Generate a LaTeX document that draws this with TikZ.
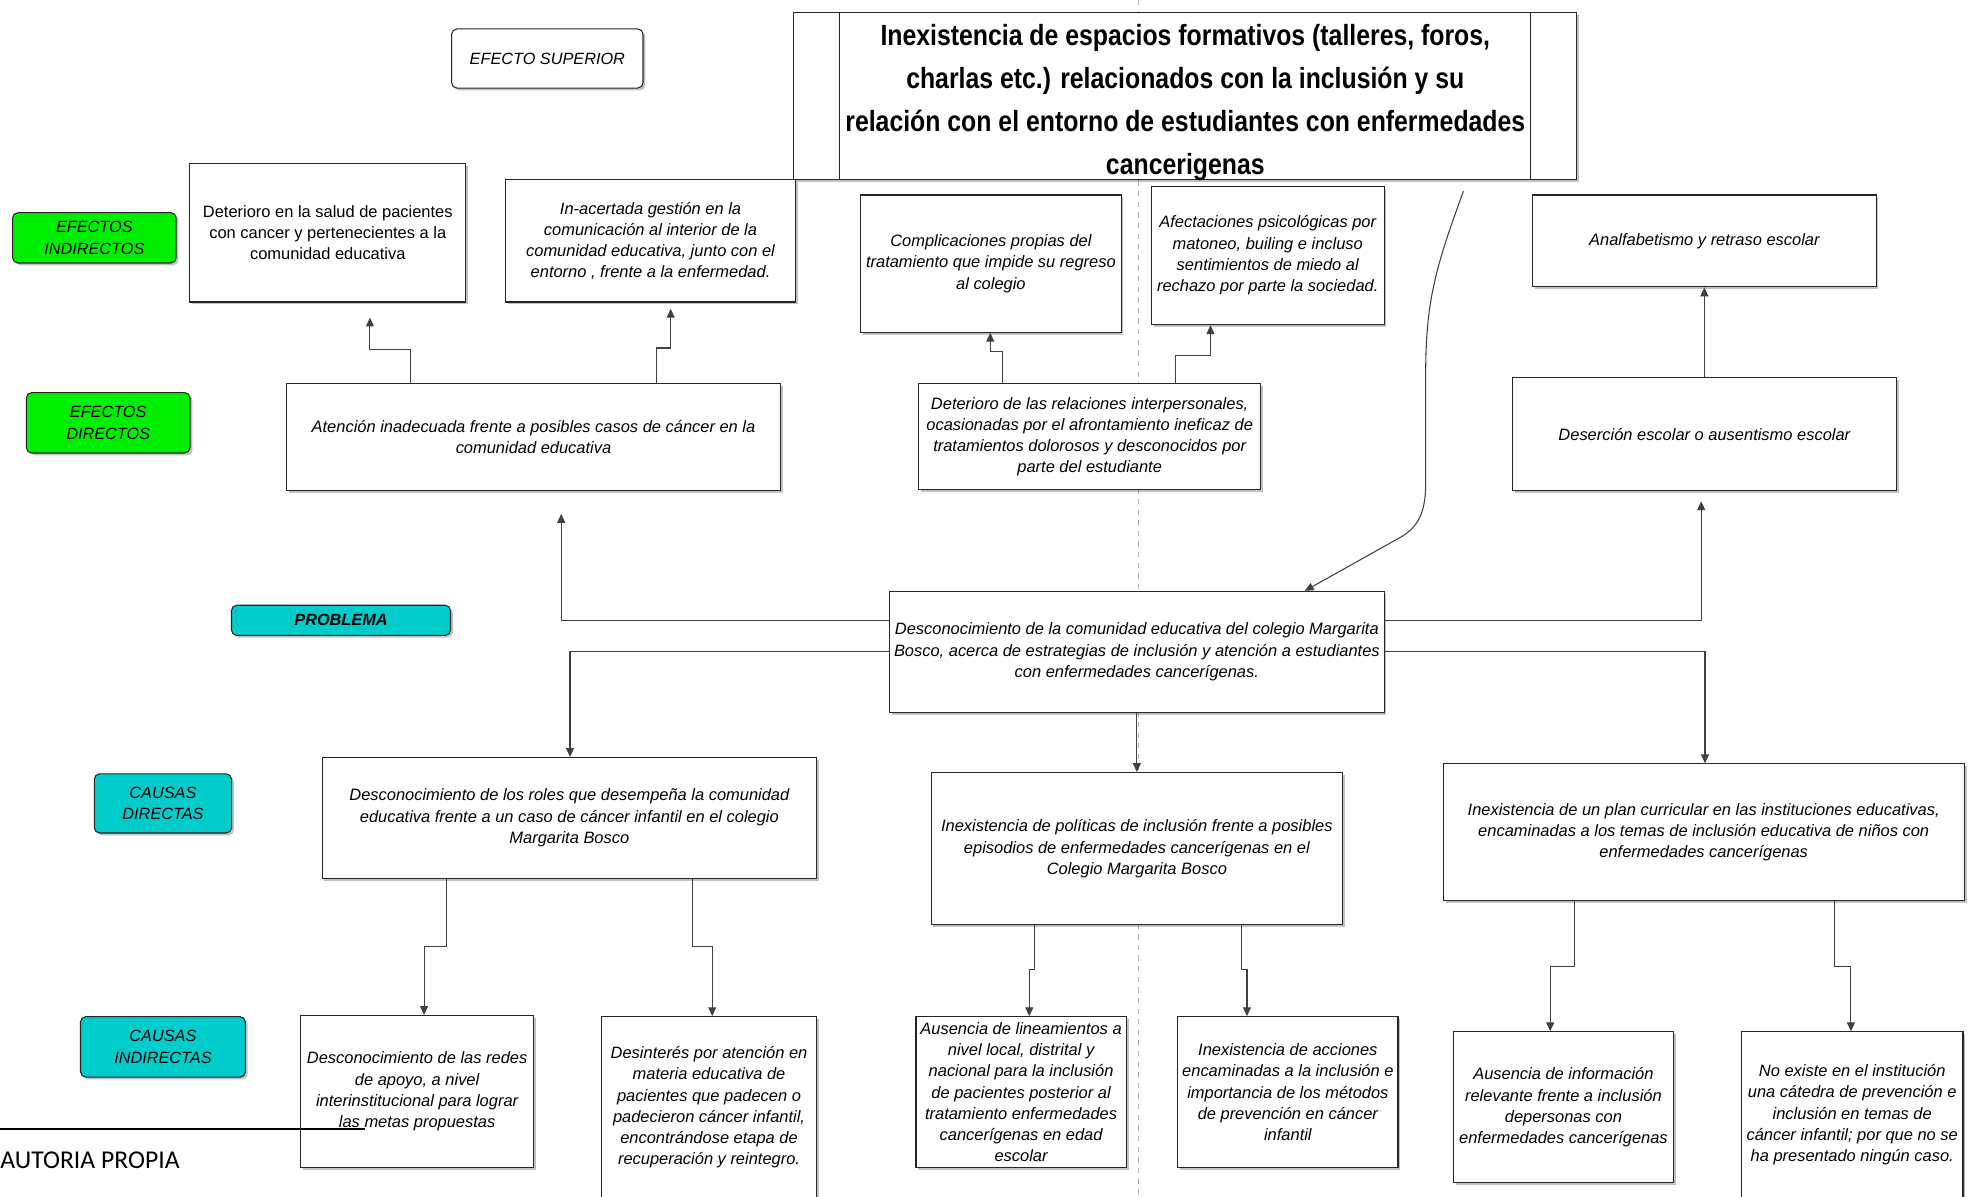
\documentclass[tikz,border=0pt]{standalone}
\usepackage{fontspec}
\setmainfont{Liberation Sans}
\newfontfamily\titulofont[FakeStretch=0.85]{Liberation Sans}
\newfontfamily\notafont{Carlito}
\usetikzlibrary{arrows.meta,calc,shadows}

\definecolor{verde}{RGB}{0,238,0}
\definecolor{turquesa}{RGB}{0,204,204}

\begin{document}
\begin{tikzpicture}[
	x=0.025cm, y=-0.025cm,
	caja/.style={
		draw=black!85, line width=0.6pt, fill=white, align=center, inner sep=2pt,
		font=\fontsize{9.3}{12}\selectfont\itshape,
		drop shadow={shadow xshift=1.3pt, shadow yshift=-1.3pt, opacity=0.35, fill=black!70}
	},
	etiqueta/.style={caja, rounded corners=3pt, font=\fontsize{9.2}{12}\selectfont\itshape},
	flecha/.style={draw=black!75, line width=0.6pt, -{Triangle[length=5pt,width=4.5pt]}}
	]
	
	\useasboundingbox (0,0) rectangle (1568,951);
	
	% page break line
	\draw[black!30, dashed] (905,0) -- (905,951);
	
	% Labels on the left
	\node[etiqueta, minimum width=3.8cm, minimum height=1.175cm] (sup) at (435,46.5) {EFECTO SUPERIOR};
	\node[etiqueta, fill=verde, minimum width=3.25cm, minimum height=1cm] (lei) at (75,189) {EFECTOS\\INDIRECTOS};
	\node[etiqueta, fill=verde, minimum width=3.25cm, minimum height=1.2cm] (led) at (86,336) {EFECTOS\\DIRECTOS};
	\node[etiqueta, fill=turquesa, minimum width=4.35cm, minimum height=0.6cm, font=\fontsize{9.2}{12}\selectfont\bfseries\itshape] (lpb) at (271,493) {PROBLEMA};
	\node[etiqueta, fill=turquesa, minimum width=2.725cm, minimum height=1.175cm] (lcd) at (129.5,638.5) {CAUSAS\\DIRECTAS};
	\node[etiqueta, fill=turquesa, minimum width=3.275cm, minimum height=1.2cm] (lci) at (129.5,832) {CAUSAS\\INDIRECTAS};
	
	% Top effect
	\node[caja, minimum width=15.55cm, minimum height=3.325cm] (tit) at (942,76.5) {};
	\node[align=center, inner sep=0pt, font=\titulofont\bfseries\fontsize{16.5}{24.2}\selectfont] (tittxt) at ($(tit.center)+(0,5)$)
		{Inexistencia de espacios formativos (talleres, foros,\\charlas etc.) relacionados con la inclusión y su\\relación con el entorno de estudiantes con enfermedades\\cancerigenas};
	\draw[draw=black!85, line width=0.6pt] ($(tit.north west)+(37,0)$) -- ($(tit.south west)+(37,0)$);
	\draw[draw=black!85, line width=0.6pt] ($(tit.north east)+(-37,0)$) -- ($(tit.south east)+(-37,0)$);
	
	% Indirect effects
	\node[caja, minimum width=5.475cm, minimum height=2.75cm, font=\fontsize{9.3}{12}\selectfont\upshape] (ei1) at (260.5,185)
		{Deterioro en la salud de pacientes\\con cancer y pertenecientes a la\\comunidad educativa};
	\node[caja, minimum width=5.75cm, minimum height=2.425cm] (ei2) at (517,191.5)
		{In-acertada gestión en la\\comunicación al interior de la\\comunidad educativa, junto con el\\entorno , frente a la enfermedad.};
	\node[caja, minimum width=5.175cm, minimum height=2.725cm] (ei3) at (787.5,209.5)
		{Complicaciones propias del\\tratamiento que impide su regreso\\al colegio};
	\node[caja, minimum width=4.625cm, minimum height=2.75cm] (ei4) at (1007.5,203)
		{Afectaciones psicológicas por\\matoneo, builing e incluso\\sentimientos de miedo al\\rechazo por parte la sociedad.};
	\node[caja, minimum width=6.825cm, minimum height=1.825cm] (ei5) at (1354.5,191.5)
		{Analfabetismo y retraso escolar};
	
	% Direct effects
	\node[caja, minimum width=9.8cm, minimum height=2.125cm] (ed1) at (424,347.5)
		{Atención inadecuada frente a posibles casos de cáncer en la\\comunidad educativa};
	\node[caja, minimum width=6.8cm, minimum height=2.1cm] (ed2) at (866,347)
		{Deterioro de las relaciones interpersonales,\\ocasionadas por el afrontamiento ineficaz de\\tratamientos dolorosos y desconocidos por\\parte del estudiante};
	\node[caja, minimum width=7.625cm, minimum height=2.25cm] (ed3) at (1354.5,345)
		{Deserción escolar o ausentismo escolar};
	
	% Problem
	\node[caja, minimum width=9.825cm, minimum height=2.4cm] (pb) at (903.5,518)
		{Desconocimiento de la comunidad educativa del colegio Margarita\\Bosco, acerca de estrategias de inclusión y atención a estudiantes\\con enfermedades cancerígenas.};
	
	% Direct causes
	\node[caja, minimum width=9.825cm, minimum height=2.4cm] (cd1) at (452.5,650)
		{Desconocimiento de los roles que desempeña la comunidad\\educativa frente a un caso de cáncer infantil en el colegio\\Margarita Bosco};
	\node[caja, minimum width=8.175cm, minimum height=3.025cm] (cd2) at (903.5,674.5)
		{Inexistencia de políticas de inclusión frente a posibles\\episodios de enfermedades cancerígenas en el\\Colegio Margarita Bosco};
	\node[caja, minimum width=10.35cm, minimum height=2.725cm] (cd3) at (1354,661.5)
		{Inexistencia de un plan curricular en las instituciones educativas,\\encaminadas a los temas de inclusión educativa de niños con\\enfermedades cancerígenas};
	
	% Indirect causes
	\node[caja, minimum width=4.625cm, minimum height=3.025cm] (ci1) at (331.5,867.5)
		{Desconocimiento de las redes\\de apoyo, a nivel\\interinstitucional para lograr\\las metas propuestas};
	\node[caja, minimum width=4.275cm, minimum height=3.6cm] (ci2) at (563.5,880)
		{Desinterés por atención en\\materia educativa de\\pacientes que padecen o\\padecieron cáncer infantil,\\encontrándose etapa de\\recuperación y reintegro.};
	\node[caja, minimum width=4.175cm, minimum height=3cm] (ci3) at (811.5,868)
		{Ausencia de lineamientos a\\nivel local, distrital y\\nacional para la inclusión\\de pacientes posterior al\\tratamiento enfermedades\\cancerígenas en edad\\escolar};
	\node[caja, minimum width=4.375cm, minimum height=3cm] (ci4) at (1023.5,868)
		{Inexistencia de acciones\\encaminadas a la inclusión e\\importancia de los métodos\\de prevención en cáncer\\infantil};
	\node[caja, minimum width=4.375cm, minimum height=3cm] (ci5) at (1242.5,880)
		{Ausencia de información\\relevante frente a inclusión\\depersonas con\\enfermedades cancerígenas};
	\node[caja, minimum width=4.4cm, minimum height=3.3cm] (ci6) at (1472,886)
		{No existe en el institución\\una cátedra de prevención e\\inclusión en temas de\\cáncer infantil; por que no se\\ha presentado ningún caso.};
	
	% Connectors: direct effects -> indirect effects
	\draw[flecha, shorten >=0.3cm] (ed1.north -| 326,0) -- ++(0,-27) -| (ei1.south -| 294,0);
	\draw[flecha, shorten >=0.125cm] (ed1.north -| 522,0) -- ++(0,-28) -| (ei2.south -| 533,0);
	\draw[flecha] (ed2.north -| 797,0) -- ++(0,-25) -| (ei3.south -| 787,0);
	\draw[flecha] (ed2.north -| 934,0) -- ++(0,-22) -| (ei4.south -| 962,0);
	\draw[flecha] (ed3.north) -- (ei5.south);
	
	% Problem -> effects
	\draw[flecha, shorten >=0.45cm] (pb.west |- 0,493) -| (ed1.south -| 446,0);
	\draw[flecha, shorten >=0.2cm] (pb.east |- 0,493) -| (ed3.south -| 1352,0);
	\coordinate (c0) at (1163,152);
	\draw[flecha] (c0) .. controls (1140,215) and (1133,240) .. (1133,300) -- (1133,385)
		.. controls (1133,410) and (1125,420) .. (1113,427) -- (pb.north -| 1037,0);
	
	% Problem -> direct causes
	\draw[flecha] (pb.west) -| (cd1.north -| 453,0);
	\draw[flecha] (pb.south) -- (cd2.north);
	\draw[flecha] (pb.east) -| (cd3.north -| 1355,0);
	
	% Direct causes -> indirect causes
	\draw[flecha] (cd1.south -| 355,0) -- ++(0,54) -| (ci1.north -| 337,0);
	\draw[flecha] (cd1.south -| 550,0) -- ++(0,54) -| (ci2.north -| 566,0);
	\draw[flecha] (cd2.south -| 822,0) -- ++(0,35) -| (ci3.north -| 818,0);
	\draw[flecha] (cd2.south -| 987,0) -- ++(0,35) -| (ci4.north -| 991,0);
	\draw[flecha] (cd3.south -| 1251,0) -- ++(0,52) -| (ci5.north -| 1232,0);
	\draw[flecha] (cd3.south -| 1458,0) -- ++(0,52) -| (ci6.north -| 1471,0);
	
	% Source note
	\coordinate (n0) at (0,897);
	\coordinate (n1) at (290,897);
	\draw[line width=1pt] (n0) -- (n1);
	\node[anchor=west, inner sep=0pt, font=\notafont\fontsize{14.5}{17}\selectfont] (aut) at (0,922) {AUTORIA PROPIA};
	
\end{tikzpicture}
\end{document}
